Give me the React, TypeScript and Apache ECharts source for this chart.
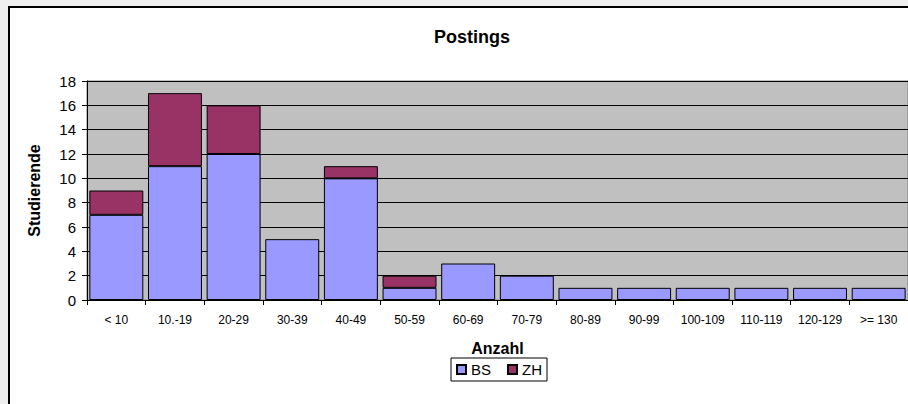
import React, { useEffect, useRef } from "react";
import * as echarts from "echarts";

const categories = ["< 10", "10.-19", "20-29", "30-39", "40-49", "50-59", "60-69", "70-79", "80-89", "90-99", "100-109", "110-119", "120-129", ">= 130"];
const bsValues = [7, 11, 12, 5, 10, 1, 3, 2, 1, 1, 1, 1, 1, 1];
const zhValues = [2, 6, 4, 0, 1, 1, 0, 0, 0, 0, 0, 0, 0, 0];
const yTicks = { min: 0, max: 18, interval: 2 };

const FONT = "Liberation Sans, Arial, sans-serif";

export default function App() {
  const ref = useRef<HTMLDivElement>(null);

  useEffect(() => {
    if (!ref.current) return;
    const chart = echarts.init(ref.current, undefined, { renderer: "svg" });
    chart.setOption({
      animation: false,
      backgroundColor: "#efefef",
      textStyle: { fontFamily: FONT, color: "#000" },
      graphic: [
        {
          type: "rect",
          z: -10,
          shape: { x: 9, y: 7, width: 1000, height: 500 },
          style: { fill: "#ffffff", stroke: "#000000", lineWidth: 2 },
        },
      ],
      title: {
        text: "Postings",
        left: 467,
        textAlign: "center",
        top: 23,
        textStyle: { fontFamily: FONT, fontSize: 18, fontWeight: "bold", color: "#000" },
      },
      legend: {
        data: ["BS", "ZH"],
        icon: "rect",
        left: 451,
        top: 358,
        itemWidth: 9,
        itemHeight: 9,
        itemGap: 16,
        borderColor: "#000",
        borderWidth: 1,
        padding: [4, 5],
        textStyle: { fontFamily: FONT, fontSize: 15, color: "#000" },
      },
      grid: {
        left: 87,
        right: -4,
        top: 81,
        bottom: 104,
        show: true,
        backgroundColor: "#c0c0c0",
        borderColor: "#808080",
        borderWidth: 1,
      },
      xAxis: {
        type: "category",
        data: categories,
        name: "Anzahl",
        nameLocation: "middle",
        nameGap: 40,
        nameTextStyle: { fontFamily: FONT, fontSize: 16, fontWeight: "bold", color: "#000" },
        axisLine: { lineStyle: { color: "#000", width: 1 } },
        axisTick: { show: true, length: 5, lineStyle: { color: "#000" } },
        axisLabel: { fontFamily: FONT, fontSize: 12, color: "#000", margin: 14, interval: 0 },
      },
      yAxis: {
        type: "value",
        min: yTicks.min,
        max: yTicks.max,
        interval: yTicks.interval,
        name: "Studierende",
        nameLocation: "middle",
        nameGap: 45,
        nameRotate: 90,
        nameTextStyle: { fontFamily: FONT, fontSize: 16, fontWeight: "bold", color: "#000" },
        axisLine: { show: true, lineStyle: { color: "#000", width: 1 } },
        axisTick: { show: true, length: 5, inside: false, lineStyle: { color: "#000" } },
        axisLabel: { fontFamily: FONT, fontSize: 15, color: "#000", margin: 11 },
        splitLine: { show: true, lineStyle: { color: "#000", width: 1 } },
      },
      series: [
        {
          name: "BS",
          type: "bar",
          stack: "total",
          data: bsValues,
          barCategoryGap: "8%",
          itemStyle: { color: "#9999ff", borderColor: "#000", borderWidth: 1 },
        },
        {
          name: "ZH",
          type: "bar",
          stack: "total",
          data: zhValues.map((v) => (v === 0 ? null : v)),
          barCategoryGap: "8%",
          itemStyle: { color: "#993366", borderColor: "#000", borderWidth: 1 },
        },
      ],
    });
    return () => chart.dispose();
  }, []);

  return (
    <div
      ref={ref}
      style={{ position: "fixed", left: 0, top: 0, width: 908, height: 404 }}
    />
  );
}
